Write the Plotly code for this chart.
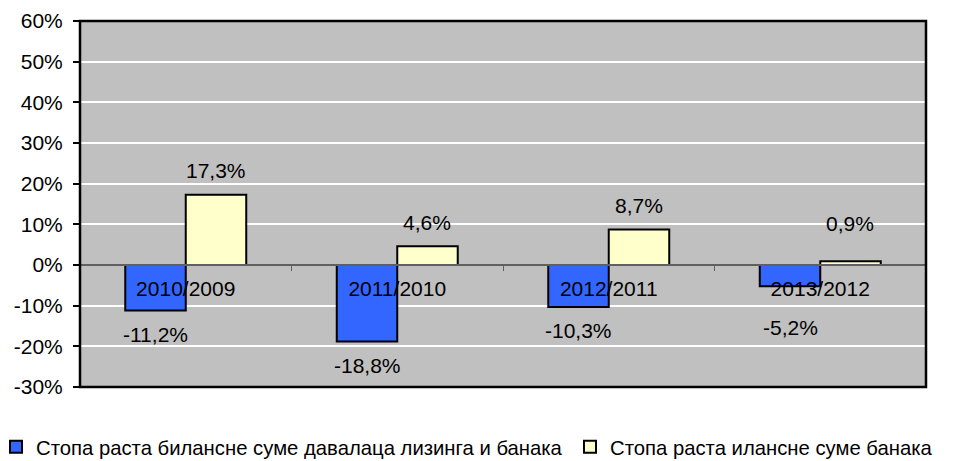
import plotly.graph_objects as go

categories = ["2010/2009", "2011/2010", "2012/2011", "2013/2012"]
series_names = [
    "Стопа раста билансне суме давалаца лизинга и банака",
    "Стопа раста илансне суме банака",
]
leasing_banks = [-11.2, -18.8, -10.3, -5.2]
banks = [17.3, 4.6, 8.7, 0.9]
y_tickvals = [-30, -20, -10, 0, 10, 20, 30, 40, 50, 60]
y_ticktext = ["-30%", "-20%", "-10%", "0%", "10%", "20%", "30%", "40%", "50%", "60%"]

FONT = "Liberation Sans, Arial, sans-serif"
FS = 21
# page body has an 8px margin, so the figure is sized to the remaining window
W, H = 949, 453
M = dict(l=72, r=31, t=13, b=74)
Y_RANGE = [-30, 60]
BARGAP = 0.428
colors = ["#3366FF", "#FFFFCC"]
legend_names = ["legend", "legend2"]

fig = go.Figure()
for name, vals, col, lg in zip(series_names, [leasing_banks, banks], colors, legend_names):
    fig.add_trace(go.Bar(
        x=categories, y=vals, name=name, legend=lg, showlegend=True,
        marker=dict(color=col, line=dict(color="black", width=2)),
    ))

def fmt(v):
    return f"{v:.1f}".replace(".", ",") + "%"

plot_w = W - M["l"] - M["r"]
plot_h = H - M["t"] - M["b"]
px_per_unit = plot_h / (Y_RANGE[1] - Y_RANGE[0])
bar_w = (1 - BARGAP) / 2
annotations = []
for s, vals in enumerate([leasing_banks, banks]):
    off = (s - 0.5) * bar_w
    for i, v in enumerate(vals):
        bar_px = abs(v) * px_per_unit
        if v >= 0:
            shift = max(24, 42 - bar_px)
        else:
            shift = -max(24, 62 - bar_px)
        annotations.append(dict(
            x=i + off, y=v, xref="x", yref="y", text=fmt(v), showarrow=False,
            yshift=shift,
            font=dict(family=FONT, size=FS, color="black"),
        ))

zero_pos = (0 - Y_RANGE[0]) / (Y_RANGE[1] - Y_RANGE[0])
leg_font = dict(family=FONT, size=20.3, color="black")
leg_y = -60 / plot_h

fig.update_layout(
    width=W, height=H, margin=dict(M, autoexpand=False),
    paper_bgcolor="white", plot_bgcolor="#C0C0C0",
    barmode="group", bargap=BARGAP, bargroupgap=0,
    showlegend=True,
    font=dict(family=FONT, size=FS, color="black"),
    xaxis=dict(
        type="category", anchor="free", position=zero_pos, automargin=False,
        showline=True, linecolor="#606060", linewidth=1.5,
        ticks="outside", tickson="boundaries", ticklen=5, tickcolor="#606060",
        showgrid=False, zeroline=False,
        tickfont=dict(family=FONT, size=FS, color="black"),
        ticklabelstandoff=5,
    ),
    yaxis=dict(
        range=Y_RANGE, tickvals=y_tickvals, ticktext=y_ticktext, automargin=False,
        showgrid=True, gridcolor="white", gridwidth=2,
        zeroline=False, showline=False,
        ticks="outside", ticklen=6, tickcolor="black", tickwidth=1.5,
        tickfont=dict(family=FONT, size=FS, color="black"),
        ticklabelstandoff=6,
    ),
    legend=dict(
        orientation="h", xref="paper", yref="paper",
        x=-84 / plot_w, xanchor="left", y=leg_y, yanchor="middle",
        font=leg_font, itemwidth=30, bgcolor="rgba(0,0,0,0)",
    ),
    legend2=dict(
        orientation="h", xref="paper", yref="paper",
        x=490 / plot_w, xanchor="left", y=leg_y, yanchor="middle",
        font=leg_font, itemwidth=30, bgcolor="rgba(0,0,0,0)",
    ),
    annotations=annotations,
    shapes=[dict(type="rect", xref="paper", yref="paper", x0=0, x1=1, y0=0, y1=1,
                 line=dict(color="black", width=2.5), layer="above")],
)

fig.write_html("out.html")
